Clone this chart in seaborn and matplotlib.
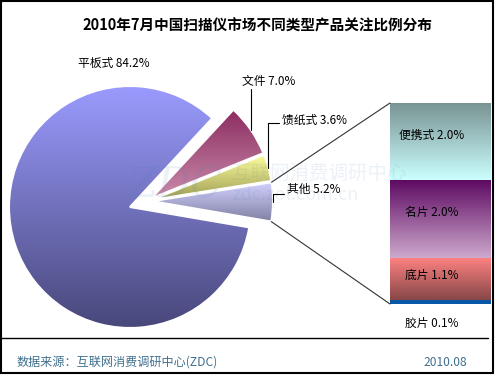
import numpy as np
import matplotlib
matplotlib.use('Agg')
import matplotlib.pyplot as plt
import seaborn as sns
from matplotlib.patches import Rectangle, ConnectionPatch

# %% data
title = '2010年7月中国扫描仪市场不同类型产品关注比例分布'
pie_labels = ['平板式', '文件', '馈纸式', '其他']
pie_values = [84.2, 7.0, 3.6, 5.2]
bar_labels = ['便携式', '名片', '底片', '胶片']
bar_values = [2.0, 2.0, 1.1, 0.1]
source = '数据来源：互联网消费调研中心(ZDC)'
date = '2010.08'

# (top, bottom) gradient colours
pie_colors = [('#9B9BFF', '#48477A'), ('#8C2C60', '#C98BAA'),
              ('#FFFF9E', '#9C9C52'), ('#D2D2FF', '#7F7FA3')]
bar_colors = [('#789292', '#CCFFFF'), ('#5E0A62', '#CDA9CD'),
              ('#FF8282', '#874747'), ('#0A58A8', '#0A58A8')]

sns.set_theme(style='white')
plt.rcParams['font.family'] = ['Noto Sans CJK SC', 'DejaVu Sans']

W, H = 500, 375
fig = plt.figure(figsize=(5, 3.75), dpi=100)
fig.patch.set_facecolor('white')


def fig_box(x0, y0, x1, y1):
    # pixel box (origin top-left) -> figure fraction
    return [x0 / W, 1 - y1 / H, (x1 - x0) / W, (y1 - y0) / H]


def gradient_fill(ax, patch, top, bottom, z=0.5):
    verts = patch.get_patch_transform().transform(patch.get_path().vertices)
    x0, y0 = verts.min(axis=0)
    x1, y1 = verts.max(axis=0)
    cmap = sns.blend_palette([bottom, top], as_cmap=True)
    img = ax.imshow(np.linspace(0, 1, 256).reshape(-1, 1), cmap=cmap, origin='lower',
                    extent=(x0, x1, y0, y1), aspect='auto', interpolation='bilinear', zorder=z)
    img.set_clip_path(patch)
    patch.set_facecolor('none')


# %% background layer in pixels
bg = fig.add_axes([0, 0, 1, 1])
bg.set_xlim(0, W)
bg.set_ylim(H, 0)
bg.axis('off')
bg.add_patch(Rectangle((1, 1), 492, 372, fill=False, edgecolor='black', lw=1.5))
bg.plot([0, 488], [338, 338], color='black', lw=1)
bg.text(257, 25, title, ha='center', va='center', fontsize=10.5, fontweight='bold', color='black')
bg.text(17, 362, source, ha='left', va='center', fontsize=8.7, color='#41708F')
bg.text(467, 362, date, ha='right', va='center', fontsize=8.7, color='#41708F')

# %% pie
UNIT, cx, cy = 121, 130, 207
pie_ax = fig.add_axes(fig_box(3, 70, 283, 334))
pie_ax.set_facecolor('none')
wedges, _ = pie_ax.pie(pie_values, explode=[0, 0.04, 0.04, 0.04], counterclock=False,
                       startangle=-9.7, radius=1,
                       wedgeprops=dict(edgecolor='white', linewidth=1.5))

# the small slices are pulled out together
small = wedges[1:]
t_mid = np.deg2rad((min(w.theta1 for w in small) + max(w.theta2 for w in small)) / 2)
shift = 0.15 * np.array([np.cos(t_mid), np.sin(t_mid)])
for w in small:
    w.set_center(tuple(np.array(w.center) + shift))

for w, (top, bottom) in zip(wedges, pie_colors):
    gradient_fill(pie_ax, w, top, bottom)

pie_ax.set_xlim((3 - cx) / UNIT, (283 - cx) / UNIT)
pie_ax.set_ylim((cy - 334) / UNIT, (cy - 70) / UNIT)
pie_ax.axis('off')

# labels: text left x, text centre y, elbow y (pixels)
label_pos = [(78, 63, None), (242, 82, 89), (282, 120, 123), (287, 189, 194)]
for w, name, val, (tx, ty, ey) in zip(wedges, pie_labels, pie_values, label_pos):
    bg.text(tx, ty, f'{name} {val:.1f}%', ha='left', va='center', fontsize=8.5, color='black')
    if ey is None:
        continue
    a = np.deg2rad((w.theta1 + w.theta2) / 2)
    px = w.center[0] + w.r * np.cos(a)
    py = w.center[1] + w.r * np.sin(a)
    ey_d = (cy - ey) / UNIT
    tx_d = (tx - 3 - cx) / UNIT
    xs, ys = [px, px], [py, ey_d]
    if tx_d > px:
        xs.append(tx_d)
        ys.append(ey_d)
    pie_ax.plot(xs, ys, color='black', lw=0.8, clip_on=False)

# %% stacked bar for "其他"
bar_ax = fig.add_axes(fig_box(390, 103, 491, 304))
bar_ax.set_facecolor('none')
vals_rev = bar_values[::-1]
bottoms = np.concatenate([[0], np.cumsum(vals_rev)[:-1]])
rects = bar_ax.bar([0] * len(vals_rev), vals_rev, bottom=bottoms, width=1, linewidth=0)
for r, (top, bottom) in zip(rects, bar_colors[::-1]):
    gradient_fill(bar_ax, r, top, bottom)
total = sum(bar_values)
bar_ax.set_xlim(-0.5, 0.5)
bar_ax.set_ylim(0, total)
bar_ax.axis('off')

for b, v, name in zip(bottoms, vals_rev, bar_labels[::-1]):
    y = b + 0.58 * v if v > 0.5 else -0.5
    bar_ax.text(-0.09, y, f'{name} {v:.1f}%', ha='center', va='center', fontsize=8.5,
                color='black', clip_on=False)

# connector lines from the "其他" slice to the bar
other = wedges[pie_labels.index('其他')]
for ang, yb in [(other.theta2, total), (other.theta1, 0)]:
    a = np.deg2rad(ang)
    pt = (other.center[0] + other.r * np.cos(a), other.center[1] + other.r * np.sin(a))
    con = ConnectionPatch(xyA=pt, coordsA=pie_ax.transData, xyB=(-0.5, yb),
                          coordsB=bar_ax.transData, color='#333333', lw=0.8)
    fig.add_artist(con)

# faint watermark
wm = '#4A7FB5'
fig.text(128 / W, 1 - 185 / H, 'ZDC', fontsize=30, family='DejaVu Serif', style='italic',
         color=wm, alpha=0.1, va='center')
fig.text(232 / W, 1 - 173 / H, '互联网消费调研中心', fontsize=14, color=wm, alpha=0.1, va='center')
fig.text(232 / W, 1 - 195 / H, 'zdc.zol.com.cn', fontsize=13, color=wm, alpha=0.1, va='center')

fig.savefig('out.png', dpi=100)
